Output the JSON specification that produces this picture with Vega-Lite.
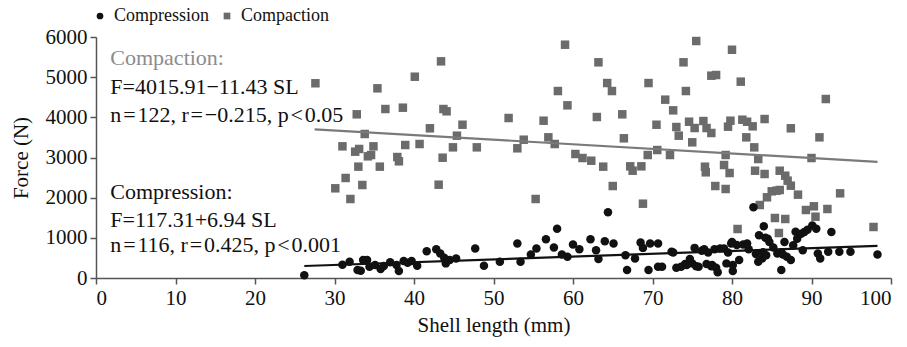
{
  "$schema": "https://vega.github.io/schema/vega-lite/v6.json",
  "width": 795,
  "height": 241,
  "autosize": {"type": "none"},
  "padding": {"left": 96, "top": 37, "right": 16, "bottom": 69},
  "background": "white",
  "config": {
    "view": {"stroke": null},
    "font": "Liberation Serif",
    "axis": {"grid": false, "labelFont": "Liberation Serif", "titleFont": "Liberation Serif", "labelFontSize": 21, "titleFontSize": 21, "titleFontWeight": "normal", "labelColor": "#111", "titleColor": "#111", "domainColor": "#555", "tickColor": "#555", "domainWidth": 1.5, "tickWidth": 1.5, "tickSize": 6}
  },
  "datasets": {
    "pts": [
      {"sl": 27.6, "force": 4848, "series": "Compaction"},
      {"sl": 35.4, "force": 4722, "series": "Compaction"},
      {"sl": 40.1, "force": 5011, "series": "Compaction"},
      {"sl": 43.4, "force": 5394, "series": "Compaction"},
      {"sl": 32.8, "force": 4075, "series": "Compaction"},
      {"sl": 36.4, "force": 4207, "series": "Compaction"},
      {"sl": 38.6, "force": 4240, "series": "Compaction"},
      {"sl": 43.7, "force": 4207, "series": "Compaction"},
      {"sl": 44.1, "force": 4150, "series": "Compaction"},
      {"sl": 42.0, "force": 3727, "series": "Compaction"},
      {"sl": 33.8, "force": 3585, "series": "Compaction"},
      {"sl": 31.0, "force": 3278, "series": "Compaction"},
      {"sl": 32.6, "force": 3145, "series": "Compaction"},
      {"sl": 33.1, "force": 3212, "series": "Compaction"},
      {"sl": 34.9, "force": 3278, "series": "Compaction"},
      {"sl": 34.2, "force": 3029, "series": "Compaction"},
      {"sl": 34.6, "force": 3062, "series": "Compaction"},
      {"sl": 38.9, "force": 3311, "series": "Compaction"},
      {"sl": 40.7, "force": 3336, "series": "Compaction"},
      {"sl": 37.9, "force": 3012, "series": "Compaction"},
      {"sl": 38.1, "force": 2905, "series": "Compaction"},
      {"sl": 43.6, "force": 2995, "series": "Compaction"},
      {"sl": 33.0, "force": 2772, "series": "Compaction"},
      {"sl": 35.7, "force": 2772, "series": "Compaction"},
      {"sl": 31.4, "force": 2490, "series": "Compaction"},
      {"sl": 30.1, "force": 2233, "series": "Compaction"},
      {"sl": 33.5, "force": 2315, "series": "Compaction"},
      {"sl": 32.0, "force": 1967, "series": "Compaction"},
      {"sl": 43.1, "force": 2323, "series": "Compaction"},
      {"sl": 46.1, "force": 3816, "series": "Compaction"},
      {"sl": 45.4, "force": 3543, "series": "Compaction"},
      {"sl": 44.9, "force": 3253, "series": "Compaction"},
      {"sl": 47.9, "force": 3253, "series": "Compaction"},
      {"sl": 51.9, "force": 3983, "series": "Compaction"},
      {"sl": 53.0, "force": 3229, "series": "Compaction"},
      {"sl": 53.8, "force": 3443, "series": "Compaction"},
      {"sl": 56.3, "force": 3916, "series": "Compaction"},
      {"sl": 56.9, "force": 3502, "series": "Compaction"},
      {"sl": 57.7, "force": 3336, "series": "Compaction"},
      {"sl": 55.3, "force": 1967, "series": "Compaction"},
      {"sl": 58.1, "force": 4655, "series": "Compaction"},
      {"sl": 59.3, "force": 4299, "series": "Compaction"},
      {"sl": 59.0, "force": 5808, "series": "Compaction"},
      {"sl": 60.3, "force": 3087, "series": "Compaction"},
      {"sl": 61.2, "force": 2987, "series": "Compaction"},
      {"sl": 62.3, "force": 2920, "series": "Compaction"},
      {"sl": 63.0, "force": 4008, "series": "Compaction"},
      {"sl": 63.2, "force": 5370, "series": "Compaction"},
      {"sl": 64.3, "force": 4854, "series": "Compaction"},
      {"sl": 64.9, "force": 4655, "series": "Compaction"},
      {"sl": 66.2, "force": 4075, "series": "Compaction"},
      {"sl": 66.4, "force": 3478, "series": "Compaction"},
      {"sl": 63.8, "force": 2772, "series": "Compaction"},
      {"sl": 65.0, "force": 2290, "series": "Compaction"},
      {"sl": 67.2, "force": 2780, "series": "Compaction"},
      {"sl": 67.5, "force": 2671, "series": "Compaction"},
      {"sl": 68.6, "force": 2780, "series": "Compaction"},
      {"sl": 68.8, "force": 1850, "series": "Compaction"},
      {"sl": 69.5, "force": 4854, "series": "Compaction"},
      {"sl": 69.4, "force": 3062, "series": "Compaction"},
      {"sl": 70.5, "force": 3816, "series": "Compaction"},
      {"sl": 70.6, "force": 3186, "series": "Compaction"},
      {"sl": 71.6, "force": 4440, "series": "Compaction"},
      {"sl": 72.2, "force": 3062, "series": "Compaction"},
      {"sl": 72.6, "force": 4174, "series": "Compaction"},
      {"sl": 73.0, "force": 3759, "series": "Compaction"},
      {"sl": 73.3, "force": 3543, "series": "Compaction"},
      {"sl": 73.9, "force": 5370, "series": "Compaction"},
      {"sl": 74.2, "force": 4655, "series": "Compaction"},
      {"sl": 74.6, "force": 3891, "series": "Compaction"},
      {"sl": 75.0, "force": 3378, "series": "Compaction"},
      {"sl": 75.3, "force": 3734, "series": "Compaction"},
      {"sl": 75.5, "force": 5900, "series": "Compaction"},
      {"sl": 76.4, "force": 3908, "series": "Compaction"},
      {"sl": 76.8, "force": 3734, "series": "Compaction"},
      {"sl": 77.4, "force": 3610, "series": "Compaction"},
      {"sl": 76.6, "force": 2771, "series": "Compaction"},
      {"sl": 76.7, "force": 2631, "series": "Compaction"},
      {"sl": 77.4, "force": 5037, "series": "Compaction"},
      {"sl": 78.0, "force": 5054, "series": "Compaction"},
      {"sl": 77.9, "force": 2290, "series": "Compaction"},
      {"sl": 80.0, "force": 5683, "series": "Compaction"},
      {"sl": 81.1, "force": 4888, "series": "Compaction"},
      {"sl": 79.5, "force": 3767, "series": "Compaction"},
      {"sl": 79.8, "force": 3916, "series": "Compaction"},
      {"sl": 81.3, "force": 3941, "series": "Compaction"},
      {"sl": 81.9, "force": 3891, "series": "Compaction"},
      {"sl": 82.6, "force": 3776, "series": "Compaction"},
      {"sl": 84.1, "force": 3958, "series": "Compaction"},
      {"sl": 87.4, "force": 3727, "series": "Compaction"},
      {"sl": 81.8, "force": 3502, "series": "Compaction"},
      {"sl": 82.8, "force": 3253, "series": "Compaction"},
      {"sl": 79.2, "force": 3062, "series": "Compaction"},
      {"sl": 83.3, "force": 2962, "series": "Compaction"},
      {"sl": 79.0, "force": 2813, "series": "Compaction"},
      {"sl": 79.7, "force": 2614, "series": "Compaction"},
      {"sl": 82.9, "force": 2671, "series": "Compaction"},
      {"sl": 84.1, "force": 2589, "series": "Compaction"},
      {"sl": 79.2, "force": 2216, "series": "Compaction"},
      {"sl": 86.0, "force": 2671, "series": "Compaction"},
      {"sl": 86.7, "force": 2547, "series": "Compaction"},
      {"sl": 87.0, "force": 2423, "series": "Compaction"},
      {"sl": 87.4, "force": 2298, "series": "Compaction"},
      {"sl": 88.3, "force": 2075, "series": "Compaction"},
      {"sl": 85.0, "force": 2158, "series": "Compaction"},
      {"sl": 85.6, "force": 2174, "series": "Compaction"},
      {"sl": 86.0, "force": 2191, "series": "Compaction"},
      {"sl": 84.4, "force": 2009, "series": "Compaction"},
      {"sl": 83.5, "force": 1817, "series": "Compaction"},
      {"sl": 89.3, "force": 1693, "series": "Compaction"},
      {"sl": 85.4, "force": 1494, "series": "Compaction"},
      {"sl": 86.7, "force": 1469, "series": "Compaction"},
      {"sl": 80.7, "force": 1220, "series": "Compaction"},
      {"sl": 85.9, "force": 1120, "series": "Compaction"},
      {"sl": 91.8, "force": 4456, "series": "Compaction"},
      {"sl": 91.0, "force": 3502, "series": "Compaction"},
      {"sl": 90.0, "force": 2987, "series": "Compaction"},
      {"sl": 93.6, "force": 2108, "series": "Compaction"},
      {"sl": 90.3, "force": 1785, "series": "Compaction"},
      {"sl": 90.5, "force": 1526, "series": "Compaction"},
      {"sl": 92.0, "force": 1718, "series": "Compaction"},
      {"sl": 97.8, "force": 1270, "series": "Compaction"},
      {"sl": 26.2, "force": 70, "series": "Compression"},
      {"sl": 31.0, "force": 330, "series": "Compression"},
      {"sl": 31.9, "force": 405, "series": "Compression"},
      {"sl": 32.9, "force": 200, "series": "Compression"},
      {"sl": 33.3, "force": 180, "series": "Compression"},
      {"sl": 33.6, "force": 446, "series": "Compression"},
      {"sl": 34.1, "force": 446, "series": "Compression"},
      {"sl": 34.4, "force": 282, "series": "Compression"},
      {"sl": 35.1, "force": 323, "series": "Compression"},
      {"sl": 35.8, "force": 224, "series": "Compression"},
      {"sl": 36.2, "force": 300, "series": "Compression"},
      {"sl": 37.0, "force": 390, "series": "Compression"},
      {"sl": 37.8, "force": 323, "series": "Compression"},
      {"sl": 38.1, "force": 175, "series": "Compression"},
      {"sl": 38.7, "force": 421, "series": "Compression"},
      {"sl": 39.2, "force": 380, "series": "Compression"},
      {"sl": 39.7, "force": 421, "series": "Compression"},
      {"sl": 40.4, "force": 306, "series": "Compression"},
      {"sl": 41.6, "force": 667, "series": "Compression"},
      {"sl": 42.8, "force": 717, "series": "Compression"},
      {"sl": 43.3, "force": 610, "series": "Compression"},
      {"sl": 43.8, "force": 503, "series": "Compression"},
      {"sl": 44.0, "force": 364, "series": "Compression"},
      {"sl": 44.5, "force": 446, "series": "Compression"},
      {"sl": 45.3, "force": 487, "series": "Compression"},
      {"sl": 47.7, "force": 733, "series": "Compression"},
      {"sl": 48.8, "force": 306, "series": "Compression"},
      {"sl": 50.8, "force": 405, "series": "Compression"},
      {"sl": 53.0, "force": 856, "series": "Compression"},
      {"sl": 53.4, "force": 405, "series": "Compression"},
      {"sl": 54.7, "force": 585, "series": "Compression"},
      {"sl": 55.4, "force": 733, "series": "Compression"},
      {"sl": 56.6, "force": 963, "series": "Compression"},
      {"sl": 57.6, "force": 758, "series": "Compression"},
      {"sl": 58.0, "force": 1226, "series": "Compression"},
      {"sl": 58.6, "force": 585, "series": "Compression"},
      {"sl": 59.3, "force": 528, "series": "Compression"},
      {"sl": 60.0, "force": 832, "series": "Compression"},
      {"sl": 60.8, "force": 717, "series": "Compression"},
      {"sl": 62.2, "force": 963, "series": "Compression"},
      {"sl": 62.9, "force": 692, "series": "Compression"},
      {"sl": 63.2, "force": 470, "series": "Compression"},
      {"sl": 64.0, "force": 914, "series": "Compression"},
      {"sl": 64.4, "force": 1636, "series": "Compression"},
      {"sl": 65.1, "force": 856, "series": "Compression"},
      {"sl": 66.6, "force": 569, "series": "Compression"},
      {"sl": 66.8, "force": 200, "series": "Compression"},
      {"sl": 67.8, "force": 487, "series": "Compression"},
      {"sl": 68.5, "force": 881, "series": "Compression"},
      {"sl": 68.8, "force": 750, "series": "Compression"},
      {"sl": 69.5, "force": 200, "series": "Compression"},
      {"sl": 69.7, "force": 856, "series": "Compression"},
      {"sl": 70.7, "force": 856, "series": "Compression"},
      {"sl": 70.7, "force": 282, "series": "Compression"},
      {"sl": 71.2, "force": 282, "series": "Compression"},
      {"sl": 72.4, "force": 656, "series": "Compression"},
      {"sl": 72.6, "force": 635, "series": "Compression"},
      {"sl": 73.0, "force": 257, "series": "Compression"},
      {"sl": 73.6, "force": 282, "series": "Compression"},
      {"sl": 74.1, "force": 349, "series": "Compression"},
      {"sl": 74.3, "force": 323, "series": "Compression"},
      {"sl": 74.7, "force": 473, "series": "Compression"},
      {"sl": 75.0, "force": 364, "series": "Compression"},
      {"sl": 75.3, "force": 750, "series": "Compression"},
      {"sl": 75.5, "force": 291, "series": "Compression"},
      {"sl": 75.8, "force": 282, "series": "Compression"},
      {"sl": 76.2, "force": 680, "series": "Compression"},
      {"sl": 76.5, "force": 717, "series": "Compression"},
      {"sl": 76.8, "force": 349, "series": "Compression"},
      {"sl": 77.0, "force": 635, "series": "Compression"},
      {"sl": 77.4, "force": 291, "series": "Compression"},
      {"sl": 77.5, "force": 323, "series": "Compression"},
      {"sl": 77.8, "force": 717, "series": "Compression"},
      {"sl": 78.0, "force": 257, "series": "Compression"},
      {"sl": 78.2, "force": 142, "series": "Compression"},
      {"sl": 78.5, "force": 733, "series": "Compression"},
      {"sl": 79.0, "force": 733, "series": "Compression"},
      {"sl": 79.3, "force": 364, "series": "Compression"},
      {"sl": 79.5, "force": 635, "series": "Compression"},
      {"sl": 79.9, "force": 860, "series": "Compression"},
      {"sl": 80.0, "force": 897, "series": "Compression"},
      {"sl": 80.1, "force": 323, "series": "Compression"},
      {"sl": 80.1, "force": 175, "series": "Compression"},
      {"sl": 80.6, "force": 820, "series": "Compression"},
      {"sl": 80.9, "force": 446, "series": "Compression"},
      {"sl": 81.4, "force": 832, "series": "Compression"},
      {"sl": 81.9, "force": 856, "series": "Compression"},
      {"sl": 82.1, "force": 717, "series": "Compression"},
      {"sl": 82.7, "force": 1759, "series": "Compression"},
      {"sl": 83.0, "force": 600, "series": "Compression"},
      {"sl": 83.3, "force": 405, "series": "Compression"},
      {"sl": 83.4, "force": 1062, "series": "Compression"},
      {"sl": 83.8, "force": 487, "series": "Compression"},
      {"sl": 83.9, "force": 640, "series": "Compression"},
      {"sl": 84.0, "force": 1291, "series": "Compression"},
      {"sl": 84.2, "force": 1000, "series": "Compression"},
      {"sl": 84.3, "force": 569, "series": "Compression"},
      {"sl": 84.5, "force": 979, "series": "Compression"},
      {"sl": 84.7, "force": 897, "series": "Compression"},
      {"sl": 85.2, "force": 760, "series": "Compression"},
      {"sl": 85.7, "force": 610, "series": "Compression"},
      {"sl": 86.2, "force": 200, "series": "Compression"},
      {"sl": 86.2, "force": 640, "series": "Compression"},
      {"sl": 86.4, "force": 585, "series": "Compression"},
      {"sl": 86.6, "force": 897, "series": "Compression"},
      {"sl": 86.9, "force": 528, "series": "Compression"},
      {"sl": 87.4, "force": 446, "series": "Compression"},
      {"sl": 87.7, "force": 815, "series": "Compression"},
      {"sl": 88.0, "force": 1150, "series": "Compression"},
      {"sl": 88.2, "force": 979, "series": "Compression"},
      {"sl": 88.7, "force": 1102, "series": "Compression"},
      {"sl": 88.9, "force": 692, "series": "Compression"},
      {"sl": 89.1, "force": 1143, "series": "Compression"},
      {"sl": 89.5, "force": 1200, "series": "Compression"},
      {"sl": 90.1, "force": 1308, "series": "Compression"},
      {"sl": 90.6, "force": 1226, "series": "Compression"},
      {"sl": 90.8, "force": 610, "series": "Compression"},
      {"sl": 91.1, "force": 487, "series": "Compression"},
      {"sl": 92.1, "force": 651, "series": "Compression"},
      {"sl": 92.5, "force": 1143, "series": "Compression"},
      {"sl": 93.5, "force": 651, "series": "Compression"},
      {"sl": 94.9, "force": 651, "series": "Compression"},
      {"sl": 98.3, "force": 585, "series": "Compression"}
    ],
    "fits": [
      {"series": "Compaction", "sl": 27.5, "force": 3702},
      {"series": "Compaction", "sl": 98.3, "force": 2892},
      {"series": "Compression", "sl": 26.2, "force": 299},
      {"series": "Compression", "sl": 98.3, "force": 799}
    ],
    "notes": [
      {"sl": 1.8, "force": 5480, "label": "Compaction:", "grp": "head"},
      {"sl": 1.8, "force": 4760, "label": "F=4015.91−11.43 SL", "grp": "body"},
      {"sl": 1.8, "force": 4050, "label": "n\u200a=\u200a122, r\u200a=\u200a−0.215, p\u200a<\u200a0.05", "grp": "body"},
      {"sl": 1.8, "force": 2140, "label": "Compression:", "grp": "body"},
      {"sl": 1.8, "force": 1450, "label": "F=117.31+6.94 SL", "grp": "body"},
      {"sl": 1.8, "force": 810, "label": "n\u200a=\u200a116, r\u200a=\u200a0.425, p\u200a<\u200a0.001", "grp": "body"}
    ]
  },
  "layer": [
    {
      "data": {"name": "pts"},
      "mark": {"type": "point", "filled": true, "opacity": 1, "size": 72},
      "encoding": {
        "x": {"field": "sl", "type": "quantitative", "title": "Shell length (mm)", "scale": {"domain": [0, 100], "nice": false}, "axis": {"values": [0,10,20,30,40,50,60,70,80,90,100], "labelPadding": 3, "titlePadding": 6}},
        "y": {"field": "force", "type": "quantitative", "title": "Force (N)", "scale": {"domain": [0, 6000], "nice": false}, "axis": {"values": [0,1000,2000,3000,4000,5000,6000], "format": "d", "labelPadding": 3, "titlePadding": 14}},
        "shape": {"field": "series", "type": "nominal", "scale": {"domain": ["Compression", "Compaction"], "range": ["circle", "square"]}, "legend": {"title": null, "orient": "none", "legendX": -5, "legendY": -30, "direction": "horizontal", "labelFont": "Liberation Serif", "labelFontSize": 18, "labelColor": "#111", "symbolSize": 45, "columnPadding": 8, "labelOffset": 5}},
        "color": {"field": "series", "type": "nominal", "scale": {"domain": ["Compression", "Compaction"], "range": ["#111111", "#6b6b6b"]}, "legend": {"title": null, "orient": "none", "legendX": -5, "legendY": -30, "direction": "horizontal", "labelFont": "Liberation Serif", "labelFontSize": 18, "labelColor": "#111", "symbolSize": 45, "columnPadding": 8, "labelOffset": 5}}
      }
    },
    {
      "data": {"name": "fits"},
      "transform": [{"filter": "datum.series === 'Compaction'"}],
      "mark": {"type": "line", "strokeWidth": 2.2, "color": "#7a7a7a"},
      "encoding": {
        "x": {"field": "sl", "type": "quantitative"},
        "y": {"field": "force", "type": "quantitative"}
      }
    },
    {
      "data": {"name": "fits"},
      "transform": [{"filter": "datum.series === 'Compression'"}],
      "mark": {"type": "line", "strokeWidth": 2.2, "color": "#111111"},
      "encoding": {
        "x": {"field": "sl", "type": "quantitative"},
        "y": {"field": "force", "type": "quantitative"}
      }
    },
    {
      "data": {"name": "notes"},
      "transform": [{"filter": "datum.grp === 'head'"}],
      "mark": {"type": "text", "align": "left", "baseline": "middle", "font": "Liberation Serif", "fontSize": 22, "color": "#8c8c8c"},
      "encoding": {
        "x": {"field": "sl", "type": "quantitative"},
        "y": {"field": "force", "type": "quantitative"},
        "text": {"field": "label"}
      }
    },
    {
      "data": {"name": "notes"},
      "transform": [{"filter": "datum.grp === 'body'"}],
      "mark": {"type": "text", "align": "left", "baseline": "middle", "font": "Liberation Serif", "fontSize": 22, "color": "#111111"},
      "encoding": {
        "x": {"field": "sl", "type": "quantitative"},
        "y": {"field": "force", "type": "quantitative"},
        "text": {"field": "label"}
      }
    }
  ]
}
